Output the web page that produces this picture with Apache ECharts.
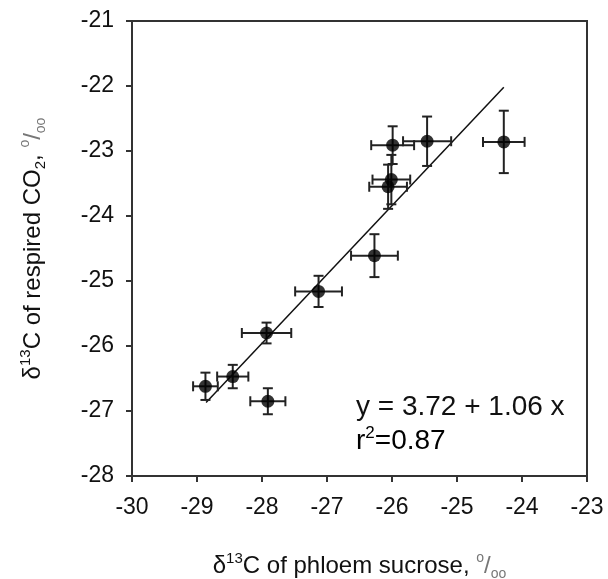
<!DOCTYPE html>
<html>
<head>
<meta charset="utf-8">
<script src="https://cdn.jsdelivr.net/npm/echarts@6/dist/echarts.min.js"></script>
<style>
  html, body { margin: 0; padding: 0; background: #fff; }
  #main { width: 608px; height: 579px; }
</style>
</head>
<body>
<div id="main"></div>
<script>
// d13C of phloem sucrose (x) and of respired CO2 (y), with error bars
var sucrose     = [-28.87, -28.45, -27.91, -27.93, -27.13, -26.27, -26.06, -26.01, -25.99, -25.46, -24.28];
var sucroseErr  = [0.19, 0.24, 0.27, 0.38, 0.36, 0.36, 0.29, 0.29, 0.33, 0.37, 0.32];
var respired    = [-26.62, -26.47, -26.85, -25.80, -25.16, -24.61, -23.55, -23.44, -22.91, -22.85, -22.86];
var respiredErr = [0.21, 0.18, 0.20, 0.16, 0.24, 0.33, 0.34, 0.38, 0.29, 0.38, 0.48];

// regression line ends
var fitX = [-28.86, -24.28];
var fitY = [-26.87, -22.02];

var xTicks = [-30, -29, -28, -27, -26, -25, -24, -23];
var yTicks = [-28, -27, -26, -25, -24, -23, -22, -21];

var FONT = 'Liberation Sans, Arial, sans-serif';

var points = [];
var bars = [];
for (var i = 0; i < sucrose.length; i++) {
	points.push([sucrose[i], respired[i]]);
	bars.push([sucrose[i], respired[i], sucroseErr[i], respiredErr[i]]);
}
var fitData = [];
for (var j = 0; j < fitX.length; j++) {
	fitData.push([fitX[j], fitY[j]]);
}

var myChart = echarts.init(document.getElementById('main'), null, { renderer: 'canvas' });

// rich styles for the axis titles (super/subscripts and the per mil sign)
var nameRich = {
	n:   { fontSize: 24, lineHeight: 30, fontFamily: FONT, color: '#111' },
	sup: { fontSize: 15, lineHeight: 14, fontFamily: FONT, color: '#111', verticalAlign: 'top' },
	sub: { fontSize: 15, lineHeight: 12, fontFamily: FONT, color: '#111', verticalAlign: 'bottom' },
	pm:  { fontSize: 14, lineHeight: 14, fontFamily: FONT, color: '#777', verticalAlign: 'top' },
	ps:  { fontSize: 24, lineHeight: 30, fontFamily: FONT, color: '#777' },
	pmb: { fontSize: 14, lineHeight: 12, fontFamily: FONT, color: '#777', verticalAlign: 'bottom' }
};

function errorBars(params, api) {
	var x = api.value(0), y = api.value(1);
	var ex = api.value(2), ey = api.value(3);
	var l = api.coord([x - ex, y]);
	var r = api.coord([x + ex, y]);
	var t = api.coord([x, y + ey]);
	var b = api.coord([x, y - ey]);
	var cap = 5;
	var st = { stroke: '#222', lineWidth: 2 };
	return {
		type: 'group',
		children: [
			{ type: 'line', shape: { x1: l[0], y1: l[1], x2: r[0], y2: r[1] }, style: st },
			{ type: 'line', shape: { x1: l[0], y1: l[1] - cap, x2: l[0], y2: l[1] + cap }, style: st },
			{ type: 'line', shape: { x1: r[0], y1: r[1] - cap, x2: r[0], y2: r[1] + cap }, style: st },
			{ type: 'line', shape: { x1: t[0], y1: t[1], x2: b[0], y2: b[1] }, style: st },
			{ type: 'line', shape: { x1: t[0] - cap, y1: t[1], x2: t[0] + cap, y2: t[1] }, style: st },
			{ type: 'line', shape: { x1: b[0] - cap, y1: b[1], x2: b[0] + cap, y2: b[1] }, style: st }
		]
	};
}

var option = {
	backgroundColor: '#fff',
	animation: false,
	grid: {
		left: 132, right: 21, top: 21, bottom: 103,
		outerBoundsMode: 'none',
		show: true, borderColor: '#333', borderWidth: 2
	},
	xAxis: {
		type: 'value',
		min: xTicks[0], max: xTicks[xTicks.length - 1], interval: 1,
		name: '{n|δ}{sup|13}{n|C of phloem sucrose, }{pm|o}{ps|/}{pmb|oo}',
		nameLocation: 'middle', nameGap: 75,
		nameTextStyle: { rich: nameRich },
		axisLine: { onZero: false, lineStyle: { color: '#333', width: 2 } },
		axisTick: { inside: false, length: 6, lineStyle: { color: '#333', width: 2 } },
		axisLabel: { color: '#111', fontSize: 23, fontFamily: FONT, margin: 20 },
		splitLine: { show: false }
	},
	yAxis: {
		type: 'value',
		min: yTicks[0], max: yTicks[yTicks.length - 1], interval: 1,
		name: '{n|δ}{sup|13}{n|C of respired CO}{sub|2}{n|, }{pm|o}{ps|/}{pmb|oo}',
		nameLocation: 'middle', nameGap: 84, nameRotate: 90,
		nameTextStyle: { rich: nameRich },
		axisLine: { onZero: false, lineStyle: { color: '#333', width: 2 } },
		axisTick: { inside: false, length: 6, lineStyle: { color: '#333', width: 2 } },
		axisLabel: { color: '#111', fontSize: 23, fontFamily: FONT, margin: 18 },
		splitLine: { show: false }
	},
	graphic: [
		{
			type: 'text', left: 356, top: 393, z: 100,
			style: { text: 'y = 3.72 + 1.06 x', fill: '#111', font: '28px ' + FONT }
		},
		{
			type: 'text', left: 356, top: 425, z: 100,
			style: {
				text: '{a|r}{s|2}{a|=0.87}',
				rich: {
					a: { fontSize: 28, lineHeight: 32, fontFamily: FONT, color: '#111' },
					s: { fontSize: 17, lineHeight: 16, fontFamily: FONT, color: '#111', verticalAlign: 'top' }
				}
			}
		}
	],
	series: [
		{
			type: 'line',
			data: fitData,
			symbol: 'none',
			lineStyle: { color: '#111', width: 1.5 },
			z: 1
		},
		{
			type: 'custom',
			renderItem: errorBars,
			data: bars,
			encode: { x: 0, y: 1 },
			z: 2
		},
		{
			type: 'scatter',
			data: points,
			symbol: 'circle',
			symbolSize: 13,
			itemStyle: { color: '#000' },
			z: 3
		}
	]
};

myChart.setOption(option);
</script>
</body>
</html>
